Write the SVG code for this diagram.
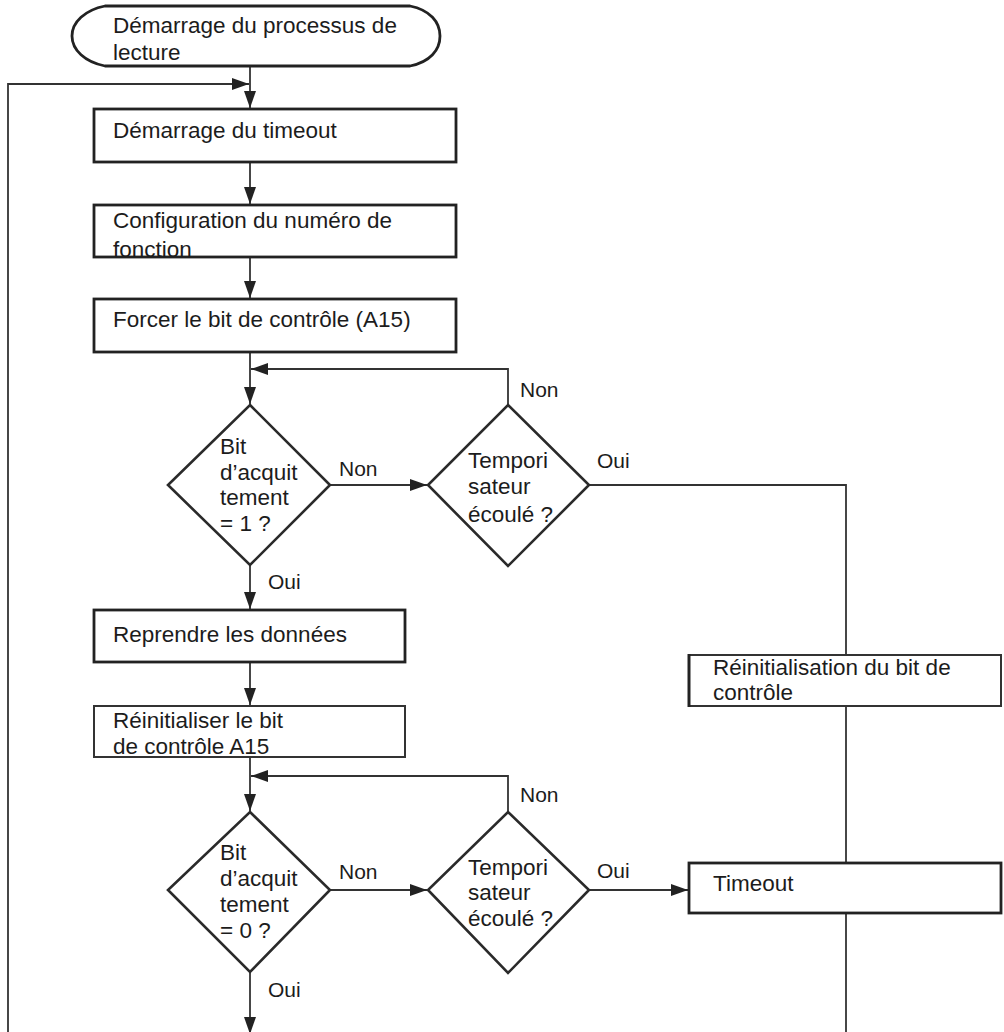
<svg xmlns="http://www.w3.org/2000/svg" width="1004" height="1032" viewBox="0 0 1004 1032">
<style>
.t{font-family:"Liberation Sans",Arial,sans-serif;font-size:22.5px;fill:#1c1c1c}
.l{font-family:"Liberation Sans",Arial,sans-serif;font-size:21px;fill:#1c1c1c}
.box{fill:#fff;stroke:#222;stroke-width:2.8}
.thin{fill:#fff;stroke:#333;stroke-width:2}
.dia{fill:#fff;stroke:#2a2a2a;stroke-width:2.6}
.c{fill:none;stroke:#333;stroke-width:1.8}
</style>
<defs>
<marker id="ah" markerUnits="userSpaceOnUse" markerWidth="18" markerHeight="12" refX="17" refY="6" orient="auto">
<path d="M0,0 L17,6 L0,12 Z" fill="#222"/>
</marker>
</defs>
<rect width="1004" height="1032" fill="#fff"/>
<g id="connectors">
<path class="c" d="M250,66 V108" marker-end="url(#ah)"/>
<path class="c" d="M8,1032 V84 H249" marker-end="url(#ah)"/>
<path class="c" d="M250,162 V204" marker-end="url(#ah)"/>
<path class="c" d="M250,257 V298" marker-end="url(#ah)"/>
<path class="c" d="M250,352 V404" marker-end="url(#ah)"/>
<path class="c" d="M508,405 V369 H251" marker-end="url(#ah)"/>
<path class="c" d="M330,485 H427" marker-end="url(#ah)"/>
<path class="c" d="M589,485 H846 V655"/>
<path class="c" d="M250,565 V609" marker-end="url(#ah)"/>
<path class="c" d="M250,662 V705" marker-end="url(#ah)"/>
<path class="c" d="M250,757 V811" marker-end="url(#ah)"/>
<path class="c" d="M508,812 V776 H251" marker-end="url(#ah)"/>
<path class="c" d="M330,890 H427" marker-end="url(#ah)"/>
<path class="c" d="M589,890 H688" marker-end="url(#ah)"/>
<path class="c" d="M846,706 V863"/>
<path class="c" d="M846,913 V1032"/>
<path class="c" d="M250,972 V1034" marker-end="url(#ah)"/>
</g>
<g id="start">
<path class="box" d="M105,6 H410 C430,10 440,22 440,36 C440,50 430,62 410,66 H105 C85,62 72,50 72,36 C72,22 85,10 105,6 Z"/>
<text class="t" x="113" y="33">Démarrage du processus de</text>
<text class="t" x="113" y="60">lecture</text>
</g>
<g id="box-timeout-start">
<rect class="box" x="94" y="109" width="362" height="53"/>
<text class="t" x="113" y="138">Démarrage du timeout</text>
</g>
<g id="box-config">
<rect class="box" x="94" y="205" width="362" height="52"/>
<text class="t" x="113" y="228">Configuration du numéro de</text>
<text class="t" x="113" y="257">fonction</text>
</g>
<g id="box-force">
<rect class="box" x="94" y="299" width="362" height="53"/>
<text class="t" x="113" y="327">Forcer le bit de contrôle (A15)</text>
</g>
<g id="dec-ack1">
<polygon class="dia" points="250,405 330,485 250,565 168,485"/>
<text class="t" x="220" y="454">Bit</text>
<text class="t" x="220" y="480">d’acquit</text>
<text class="t" x="220" y="505">tement</text>
<text class="t" x="220" y="531">= 1 ?</text>
</g>
<g id="dec-timer1">
<polygon class="dia" points="508,405 589,485 508,566 428,485"/>
<text class="t" x="468" y="468">Tempori</text>
<text class="t" x="468" y="494">sateur</text>
<text class="t" x="468" y="522">écoulé ?</text>
</g>
<g id="box-reprendre">
<rect class="box" x="94" y="610" width="311" height="52"/>
<text class="t" x="113" y="642">Reprendre les données</text>
</g>
<g id="box-reinit-a15">
<rect class="thin" x="94" y="706" width="311" height="51"/>
<text class="t" x="113" y="728">Réinitialiser le bit</text>
<text class="t" x="113" y="754">de contrôle A15</text>
</g>
<g id="dec-ack0">
<polygon class="dia" points="250,812 330,890 250,972 168,890"/>
<text class="t" x="220" y="860">Bit</text>
<text class="t" x="220" y="886">d’acquit</text>
<text class="t" x="220" y="912">tement</text>
<text class="t" x="220" y="938">= 0 ?</text>
</g>
<g id="dec-timer2">
<polygon class="dia" points="508,812 589,890 508,973 428,890"/>
<text class="t" x="468" y="875">Tempori</text>
<text class="t" x="468" y="900">sateur</text>
<text class="t" x="468" y="926">écoulé ?</text>
</g>
<g id="box-reinit-ctrl">
<rect class="thin" x="689" y="655" width="312" height="51"/>
<line x1="689" y1="654" x2="689" y2="707" stroke="#222" stroke-width="3"/>
<text class="t" x="713" y="675">Réinitialisation du bit de</text>
<text class="t" x="713" y="700">contrôle</text>
</g>
<g id="box-timeout">
<rect class="box" x="689" y="863" width="312" height="50"/>
<text class="t" x="713" y="891">Timeout</text>
</g>
<g id="labels">
<text class="l" x="520" y="397">Non</text>
<text class="l" x="339" y="476">Non</text>
<text class="l" x="597" y="468">Oui</text>
<text class="l" x="268" y="589">Oui</text>
<text class="l" x="520" y="802">Non</text>
<text class="l" x="339" y="879">Non</text>
<text class="l" x="597" y="878">Oui</text>
<text class="l" x="268" y="997">Oui</text>
</g>
</svg>
